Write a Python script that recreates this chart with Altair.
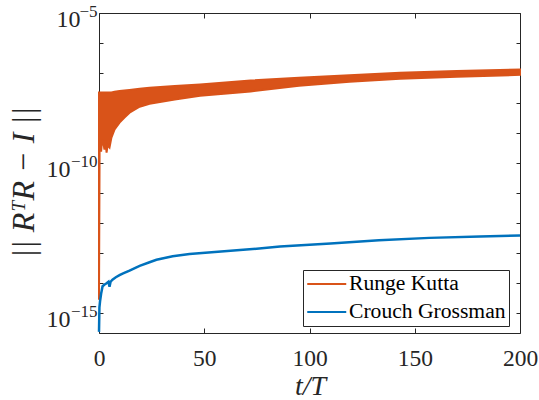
import altair as alt
import pandas as pd

# ---- data ----
t_rk = [0, 0.3, 1.0, 1.5, 2.0, 2.6, 3.1, 3.6, 4.1, 5.0, 5.9, 7.4, 9.75, 12.1, 14.5,
        19.3, 24, 36, 48, 72, 95, 119, 143, 170, 200]
rk_lower = [2.82e-15, 5.01e-10, 2.40e-10, 6.03e-10, 5.01e-10, 2.82e-10, 5.62e-10,
            2.24e-10, 3.98e-10, 3.31e-10, 7.08e-10, 1.32e-9, 2.24e-9, 3.31e-9,
            4.79e-9, 7.59e-9, 9.55e-9, 1.32e-8, 1.74e-8, 2.45e-8, 3.80e-8, 5.13e-8,
            6.46e-8, 7.59e-8, 8.71e-8]
rk_upper = [2.24e-8, 2.24e-8, 2.24e-8, 2.24e-8, 2.24e-8, 2.24e-8, 2.24e-8, 2.24e-8,
            2.24e-8, 2.24e-8, 2.24e-8, 2.40e-8, 2.51e-8, 2.63e-8, 2.75e-8, 3.02e-8,
            3.24e-8, 3.72e-8, 4.17e-8, 5.62e-8, 6.92e-8, 8.51e-8, 1.02e-7, 1.17e-7,
            1.32e-7]

t_cg = [0, 0.2, 0.5, 1.0, 1.7, 2.5, 3.6, 4.5, 5.0, 5.5, 6.4, 8.0, 9.75, 11.2, 14.5,
        19.3, 24, 27.3, 35, 43, 55, 70, 86, 110, 133, 157, 181, 200]
cg_vals = [2.4e-16, 1.58e-15, 2.51e-15, 4.47e-15, 7.94e-15, 8.91e-15, 1.0e-14,
           1.12e-14, 7.59e-15, 1.12e-14, 1.32e-14, 1.58e-14, 1.86e-14, 2.09e-14,
           2.63e-14, 3.80e-14, 5.01e-14, 6.03e-14, 7.94e-14, 9.33e-14, 1.10e-13,
           1.32e-13, 1.66e-13, 2.09e-13, 2.69e-13, 3.24e-13, 3.63e-13, 3.89e-13]

series_names = ["Runge Kutta", "Crouch Grossman"]
series_colors = ["#D95319", "#0072BD"]

x_ticks = [0, 50, 100, 150, 200]
y_label_ticks = [1e-15, 1e-10, 1e-5]
y_decades = [1e-15, 1e-14, 1e-13, 1e-12, 1e-11, 1e-10, 1e-9, 1e-8, 1e-7, 1e-6, 1e-5]
y_domain = [2.2e-16, 1e-5]

rk_df = pd.DataFrame({"t": t_rk, "lo": rk_lower, "hi": rk_upper})
cg_df = pd.DataFrame({"t": t_cg, "v": cg_vals, "series": "Crouch Grossman"})

W, H = 421, 320
FONT = "Liberation Serif"
AX = "#262626"

xs = alt.Scale(domain=[0, 200], nice=False, zero=False)
ys = alt.Scale(type="log", domain=y_domain, nice=False)

# Layer 1: Runge Kutta band + labelled axes
area = alt.Chart(rk_df).mark_area(color="#D95319", stroke="#D95319",
                                  strokeWidth=2, clip=False).encode(
    x=alt.X("t:Q", scale=xs, axis=alt.Axis(
        orient="bottom", values=x_ticks, tickSize=0, domain=False, grid=False,
        labelFont=FONT, labelFontSize=23.5, labelColor=AX, labelPadding=13,
        labelFlush=False, title="t/T", titleFont=FONT, titleFontStyle="italic",
        titleFontWeight="normal", titleFontSize=28, titleColor=AX,
        titleX=211, titleY=53, titleBaseline="middle", titleAlign="center")),
    y=alt.Y("lo:Q", scale=ys, axis=alt.Axis(
        orient="left", values=y_label_ticks, labelExpr="'10'", tickSize=0,
        domain=False, grid=False, labelFont=FONT, labelFontSize=24,
        labelColor=AX, labelBaseline="middle", labelOffset=6, labelFlush=False,
        labelPadding={"condition": {"test": "datum.value > 5e-6", "value": 19},
                      "value": 29},
        title="|| RᵀR − I ||", titleFont=FONT, titleFontStyle="italic",
        titleFontWeight="normal", titleFontSize=32, titleColor=AX,
        titleAngle=270, titleX=-76, titleY=169, titleBaseline="middle",
        titleAlign="center")),
    y2="hi:Q",
)

# Layer 2: Crouch Grossman line + inward ticks at bottom / left
line = alt.Chart(cg_df).mark_line(strokeWidth=2.5, clip=False).encode(
    x=alt.X("t:Q", scale=xs, axis=alt.Axis(
        orient="top", offset=-H, values=x_ticks, labels=False, tickSize=5,
        tickColor=AX, domain=False, grid=False, title=None)),
    y=alt.Y("v:Q", scale=ys, axis=alt.Axis(
        orient="right", offset=-W, values=y_decades, labels=False, tickSize=4,
        tickColor=AX, domain=False, grid=False, title=None)),
    color=alt.Color("series:N", scale=alt.Scale(domain=series_names,
                                                range=series_colors),
                    legend=alt.Legend(
                        orient="none", legendX=204, legendY=257, title=None,
                        symbolType="M-1,0H3", symbolSize=380,
                        symbolStrokeWidth=2, labelFont=FONT, labelFontSize=21.6,
                        labelColor="black", strokeColor=AX, fillColor="white",
                        padding=3, rowPadding=6, labelOffset=21)),
)

# Layer 3: inward ticks at top / right
ticks2 = alt.Chart(cg_df).mark_line(opacity=0).encode(
    x=alt.X("t:Q", scale=xs, axis=alt.Axis(
        orient="bottom", offset=-H, values=x_ticks, labels=False, tickSize=5,
        tickColor=AX, domain=False, grid=False, title=None)),
    y=alt.Y("v:Q", scale=ys, axis=alt.Axis(
        orient="left", offset=-W, values=y_decades, labels=False, tickSize=4,
        tickColor=AX, domain=False, grid=False, title=None)),
)

# Layer 4: exponent labels for the y axis
expo = alt.Chart(cg_df).mark_line(opacity=0).encode(
    x=alt.X("t:Q", scale=xs, axis=None),
    y=alt.Y("v:Q", scale=ys, axis=alt.Axis(
        orient="left", values=y_label_ticks,
        labelExpr="'−' + round(-log(datum.value) / LN10)", tickSize=0,
        domain=False, grid=False, labelFont=FONT, labelFontSize=17,
        labelColor=AX, labelBaseline="middle", labelOffset=-2, labelPadding=2,
        labelFlush=False, title=None)),
)

chart = alt.layer(area, line, ticks2, expo).resolve_axis(
    x="independent", y="independent"
).properties(
    width=W, height=H, autosize="none",
    padding={"left": 99, "top": 13, "right": 19, "bottom": 67},
).configure_view(stroke=AX, strokeWidth=1)

chart.save("out.html", embed_options={"renderer": "svg", "actions": False})
